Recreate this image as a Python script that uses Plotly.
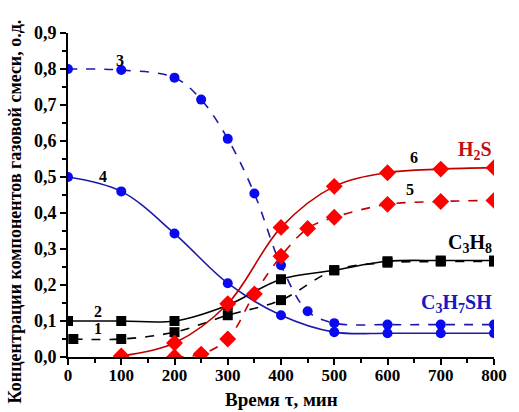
import plotly.graph_objects as go

# Data (time, min; concentration, fraction)
x1 = [10, 100, 200, 300, 400, 500, 600, 700, 800]
y1 = [0.050, 0.050, 0.069, 0.116, 0.158, 0.241, 0.262, 0.265, 0.265]
x2 = [0, 100, 200, 300, 400, 500, 600, 700, 800]
y2 = [0.100, 0.100, 0.100, 0.144, 0.216, 0.241, 0.266, 0.268, 0.268]
x3 = [0, 100, 200, 250, 300, 350, 400, 450, 500, 600, 700, 800]
y3 = [0.800, 0.797, 0.776, 0.715, 0.606, 0.454, 0.255, 0.127, 0.094, 0.090, 0.090, 0.090]
x4 = [0, 100, 200, 300, 400, 500, 600, 700, 800]
y4 = [0.500, 0.460, 0.343, 0.205, 0.116, 0.069, 0.066, 0.066, 0.066]
x5 = [200, 250, 300, 350, 400, 450, 500, 600, 700, 800]
y5 = [0.000, 0.008, 0.050, 0.175, 0.280, 0.357, 0.388, 0.424, 0.432, 0.435]
x6 = [100, 200, 300, 400, 500, 600, 700, 800]
y6 = [0.003, 0.039, 0.148, 0.360, 0.474, 0.512, 0.522, 0.526]

BLUE_L = "#1a1aa8"
BLUE_M = "#0a0af0"
RED_L = "#c00000"
RED_M = "#ff0000"
BLACK = "#000000"

fig = go.Figure()

def add(x, y, lcol, mcol, sym, size, dash):
    fig.add_trace(go.Scatter(
        x=x, y=y, mode="lines+markers",
        line=dict(color=lcol, width=1.6, shape="spline", smoothing=1.0, dash=dash),
        marker=dict(symbol=sym, size=size, color=mcol),
        showlegend=False))

add(x1, y1, BLACK, BLACK, "square", 10, "dash")
add(x2, y2, BLACK, BLACK, "square", 10, "solid")
add(x3, y3, BLUE_L, BLUE_M, "circle", 10, "dash")
add(x4, y4, BLUE_L, BLUE_M, "circle", 10, "solid")
add(x5, y5, RED_L, RED_M, "diamond", 13, "dash")
add(x6, y6, RED_L, RED_M, "diamond", 13, "solid")

FONT = "Liberation Serif"
labels = [
    (97, 0.823, "3", BLACK, 16, "center"),
    (66, 0.501, "4", BLACK, 16, "center"),
    (57, 0.127, "2", BLACK, 16, "center"),
    (57, 0.080, "1", BLACK, 16, "center"),
    (650, 0.553, "6", BLACK, 16, "center"),
    (643, 0.465, "5", BLACK, 16, "center"),
    (800, 0.573, "H<sub>2</sub>S", "#c01010", 20, "right"),
    (800, 0.316, "C<sub>3</sub>H<sub>8</sub>", BLACK, 20, "right"),
    (800, 0.150, "C<sub>3</sub>H<sub>7</sub>SH", "#1818c0", 20, "right"),
]
for lx, ly, t, c, s, xa in labels:
    fig.add_annotation(x=lx, y=ly, text=t, showarrow=False, xanchor=xa,
                       font=dict(family=FONT, size=s, color=c, weight="bold"))

# axis titles as annotations to match their offset positions
fig.add_annotation(xref="paper", yref="paper", x=-0.124, y=0.45,
                   text="Концентрации компонентов газовой смеси, о.д.",
                   textangle=-90, showarrow=False, xanchor="center", yanchor="middle",
                   font=dict(family=FONT, size=18, color="black", weight="bold"))
fig.add_annotation(xref="paper", yref="paper", x=0.5, y=-0.13,
                   text="Время τ, мин", showarrow=False,
                   xanchor="center", yanchor="middle",
                   font=dict(family=FONT, size=19, color="black", weight="bold"))

fig.update_layout(
    width=519, height=412,
    margin=dict(l=68, r=14, t=33, b=55),
    plot_bgcolor="white", paper_bgcolor="white",
    separators=", ",
    font=dict(family=FONT, color="black"),
)
fig.update_xaxes(
    range=[0, 800], tickvals=[0, 100, 200, 300, 400, 500, 600, 700, 800],
    ticks="outside", ticklen=6, tickwidth=2, tickcolor="black",
    minor=dict(dtick=50, ticks="outside", ticklen=4, tickwidth=1.5, tickcolor="black"),
    showline=True, linecolor="black", linewidth=2, showgrid=False, zeroline=False,
    tickfont=dict(family=FONT, size=17, color="black", weight="bold"),
    ticklabelstandoff=-4,
)
fig.update_yaxes(
    range=[0, 0.9], dtick=0.1, tickformat=".1f",
    ticks="outside", ticklen=6, tickwidth=2, tickcolor="black",
    minor=dict(dtick=0.05, ticks="outside", ticklen=4, tickwidth=1.5, tickcolor="black"),
    showline=True, linecolor="black", linewidth=2, showgrid=False, zeroline=False,
    tickfont=dict(family=FONT, size=18, color="black", weight="bold"),
)

fig.write_html("out.html", config={"displayModeBar": False},
               post_script="document.body.style.margin='0';document.body.style.overflow='hidden';")
